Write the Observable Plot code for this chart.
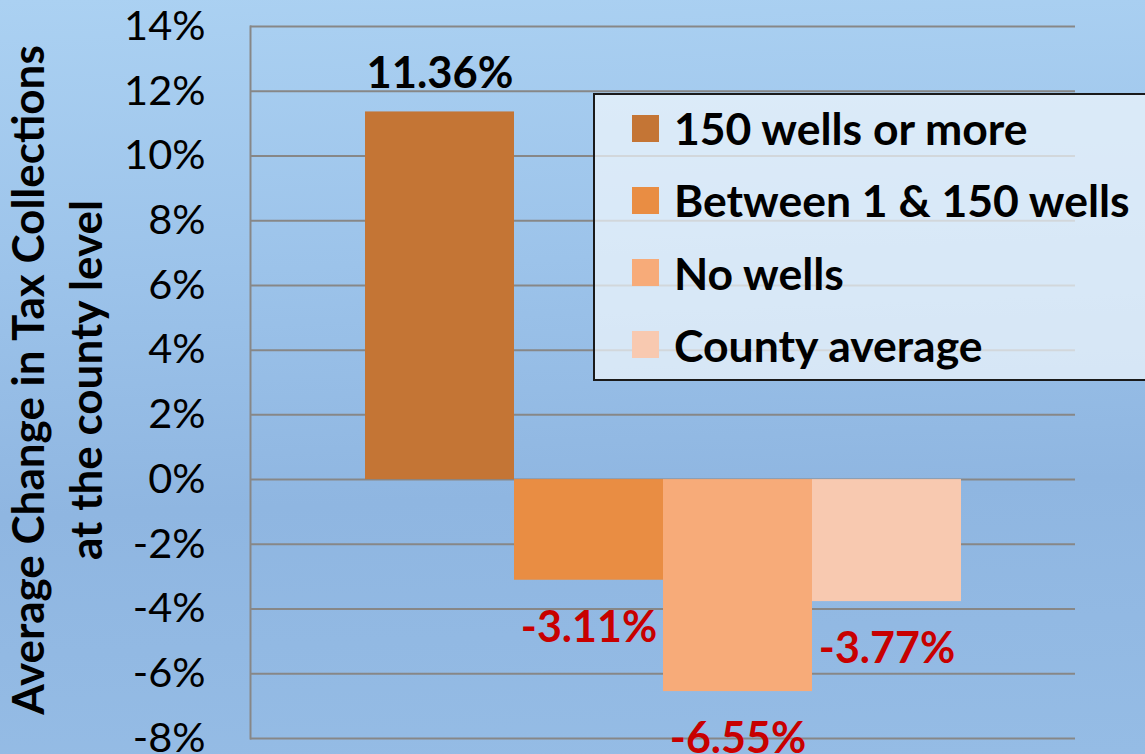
<!DOCTYPE html>
<html>
<head>
<meta charset="utf-8">
<script src="https://cdn.jsdelivr.net/npm/d3@7"></script>
<script src="https://cdn.jsdelivr.net/npm/@observablehq/plot@0.6"></script>
<style>
  html, body { margin: 0; padding: 0; width: 1145px; height: 754px; overflow: hidden; }
  body { background: linear-gradient(178deg, #abd1f2 0%, #9cc3ea 35%, #8fb6e1 65%, #95bce5 100%); font-family: Lato, "Open Sans", sans-serif; }
  #wrap { position: relative; width: 1145px; height: 754px; }
  #legend { position: absolute; left: 593px; top: 93px; width: 600px; height: 288px; background: rgba(240,246,252,0.72); border: 2px solid #1a1a1a; box-sizing: border-box; }
  .item { position: absolute; left: 37px; height: 50px; line-height: 50px; display: flex; align-items: center; font-weight: 700; font-size: 44.5px; color: #000; white-space: nowrap; }
  .sw { width: 27px; height: 27px; margin-right: 15px; flex: none; }
</style>
</head>
<body>
<div id="wrap"></div>
<script>
const series = ["150 wells or more", "Between 1 & 150 wells", "No wells", "County average"];
const values = [11.36, -3.11, -6.55, -3.77];
const labels = ["11.36%", "-3.11%", "-6.55%", "-3.77%"];
const colors = ["#c47535", "#e98d43", "#f7ab79", "#f8c9b0"];
const yTicks = [-8, -6, -4, -2, 0, 2, 4, 6, 8, 10, 12, 14];
const yTitle1 = "Average Change in Tax Collections";
const yTitle2 = "at the county level";

const data = series.map((s, i) => ({series: s, value: values[i], label: labels[i]}));

const chart = Plot.plot({
  width: 1145,
  height: 754,
  marginLeft: 250,
  marginRight: 70,
  marginTop: 26,
  marginBottom: 16,
  style: {background: "transparent", fontFamily: "Lato, 'Open Sans', sans-serif", overflow: "visible"},
  x: {domain: series, range: [363, 962], padding: 0, axis: null},
  y: {domain: [-8, 14], ticks: yTicks, label: null},
  color: {domain: series, range: colors},
  marks: [
    Plot.ruleY(yTicks, {stroke: "#878787", strokeWidth: 2}),
    Plot.frame({anchor: "left", stroke: "#878787", strokeWidth: 2}),
    Plot.barY(data, {x: "series", y: "value", fill: "series", inset: 0}),
    Plot.text(data.filter(d => d.value >= 0), {x: "series", y: "value", text: "label", dy: -38, fontSize: 43.5, fontWeight: 700, fill: "#000"}),
    Plot.text(data.filter(d => d.value < 0), {x: "series", y: "value", text: "label", dy: 48, fontSize: 43, fontWeight: 700, fill: "#c80000"}),
    Plot.axisY({ticks: yTicks, tickSize: 0, tickPadding: 45, tickFormat: d => d + "%", fontSize: 41.5, fill: "#000", label: null})
  ]
});
const wrap = document.getElementById("wrap");
wrap.appendChild(chart);

// rotated y-axis title
const svg = d3.select(chart);
const yt = svg.append("g").attr("transform", "translate(0,380) rotate(-90)")
  .attr("font-family", "Lato, 'Open Sans', sans-serif").attr("font-weight", 700).attr("font-size", 44).attr("fill", "#000").attr("text-anchor", "middle");
yt.append("text").attr("x", 0).attr("y", 44).text(yTitle1);
yt.append("text").attr("x", 0).attr("y", 102).text(yTitle2);

// legend
const legend = document.createElement("div");
legend.id = "legend";
series.forEach((s, i) => {
  const it = document.createElement("div");
  it.className = "item";
  it.style.top = (8 + i * 72.3) + "px";
  const sw = document.createElement("div");
  sw.className = "sw";
  sw.style.background = colors[i];
  const t = document.createElement("span");
  t.textContent = s;
  it.appendChild(sw); it.appendChild(t);
  legend.appendChild(it);
});
wrap.appendChild(legend);
</script>
</body>
</html>
